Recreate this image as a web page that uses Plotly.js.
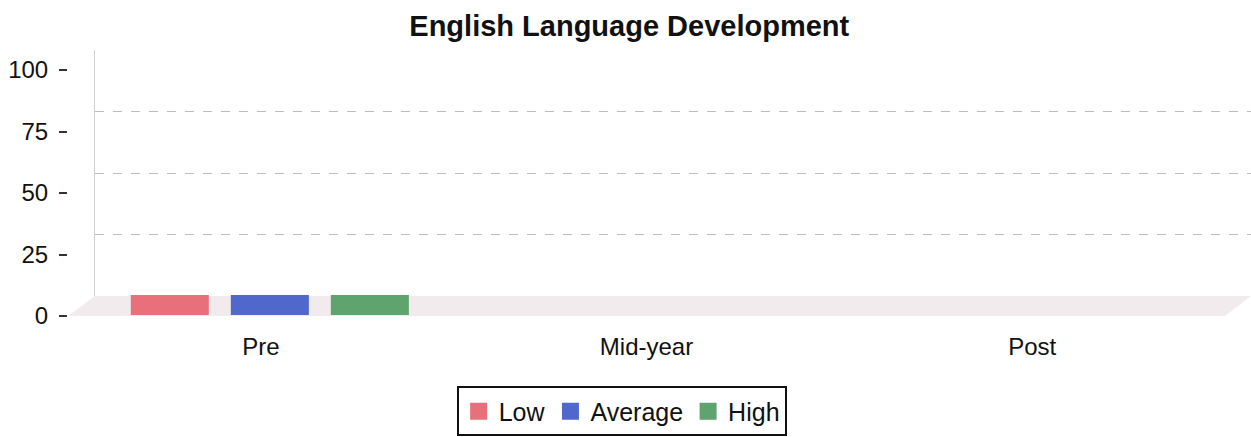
<!DOCTYPE html>
<html>
<head>
<meta charset="utf-8">
<script src="https://cdn.plot.ly/plotly-3.0.1.min.js"></script>
<style>html,body{margin:0;padding:0;background:#fff;}#chart{width:1251px;height:437px;}</style>
</head>
<body>
<div id="chart"></div>
<script>
// Data
const categories = ["Pre", "Mid-year", "Post"];
const lowValues = [0, null, null];
const averageValues = [0, null, null];
const highValues = [0, null, null];
const yTicks = [0, 25, 50, 75, 100];
const seriesNames = ["Low", "Average", "High"];
const seriesColors = ["#e8707a", "#5068cc", "#5fa36f"];

const seriesValues = [lowValues, averageValues, highValues];
const traces = seriesValues.map((vals, i) => ({
  type: "bar",
  name: seriesNames[i],
  x: categories,
  y: vals,
  xaxis: "x3",
  yaxis: "y3",
  marker: { color: seriesColors[i], line: { color: seriesColors[i], width: 40 } },
  hoverinfo: "skip"
}));
traces.push({
  type: "scatter", mode: "markers", x: categories, y: [null, null, null],
  xaxis: "x", yaxis: "y", showlegend: false, hoverinfo: "skip"
});
traces.push({
  type: "scatter", mode: "markers", x: categories, y: [null, null, null],
  xaxis: "x2", yaxis: "y2", showlegend: false, hoverinfo: "skip"
});

const W = 1183, H = 266;
const catRange = [-0.5, categories.length - 0.5];
const layout = {
  width: 1251, height: 437,
  margin: { l: 68, r: 0, t: 50, b: 121 },
  paper_bgcolor: "#fff", plot_bgcolor: "rgba(0,0,0,0)",
  font: { family: "Liberation Sans, Arial, sans-serif", color: "#222" },
  title: {
    text: "<b>English Language Development</b>",
    font: { size: 29, color: "#111" },
    x: 0.503, xanchor: "center", y: 0.94, yanchor: "middle", xref: "container", yref: "container"
  },
  barmode: "group",
  bargap: 0.222,
  bargroupgap: 0.22,
  showlegend: true,
  legend: {
    orientation: "h", x: 0.468, xanchor: "center", y: -0.265, yanchor: "top",
    bordercolor: "#111", borderwidth: 2, bgcolor: "#fff",
    font: { size: 25, color: "#111" },
    itemwidth: 30, traceorder: "normal"
  },
  xaxis: {
    domain: [0, 1157 / W], type: "category", categoryarray: categories, range: catRange,
    showgrid: false, zeroline: false, showline: false, ticks: "",
    tickfont: { size: 24, color: "#111" }, ticklabelstandoff: 14, fixedrange: true
  },
  yaxis: {
    domain: [0, 246 / H], range: [0, 100], tickvals: yTicks,
    showgrid: false, zeroline: false, showline: false,
    ticks: "outside", ticklen: 8, tickwidth: 2, tickcolor: "#333",
    tickfont: { size: 24, color: "#111" }, ticklabelstandoff: 6, fixedrange: true
  },
  xaxis2: {
    domain: [27 / W, 1], type: "category", categoryarray: categories, range: catRange, anchor: "y2",
    showgrid: false, zeroline: false, showline: false, showticklabels: false, ticks: "", fixedrange: true
  },
  yaxis2: {
    domain: [20 / H, 1], range: [0, 100], tickvals: yTicks, anchor: "x2",
    showgrid: true, gridcolor: "#bdbdbd", griddash: "dash", gridwidth: 1,
    zeroline: false, showline: true, linecolor: "#d0d0d0", linewidth: 1,
    showticklabels: false, ticks: "", fixedrange: true
  },
  xaxis3: {
    domain: [9 / W, 1166 / W], type: "category", categoryarray: categories, range: catRange, anchor: "y3",
    showgrid: false, zeroline: false, showline: false, showticklabels: false, ticks: "", fixedrange: true
  },
  yaxis3: {
    domain: [1 / H, 247 / H], range: [0, 100], anchor: "x3",
    showgrid: false, zeroline: false, showline: false, showticklabels: false, ticks: "", fixedrange: true
  },
  shapes: [
    {
      type: "path", xref: "paper", yref: "paper", layer: "below",
      path: "M 0 0 L " + (1157 / W) + " 0 L 1 " + (20 / H) + " L " + (27 / W) + " " + (20 / H) + " Z",
      fillcolor: "rgba(232,222,226,0.6)", line: { width: 0 }
    }
  ]
};

Plotly.newPlot("chart", traces, layout, { displayModeBar: false, staticPlot: true });
</script>
</body>
</html>
